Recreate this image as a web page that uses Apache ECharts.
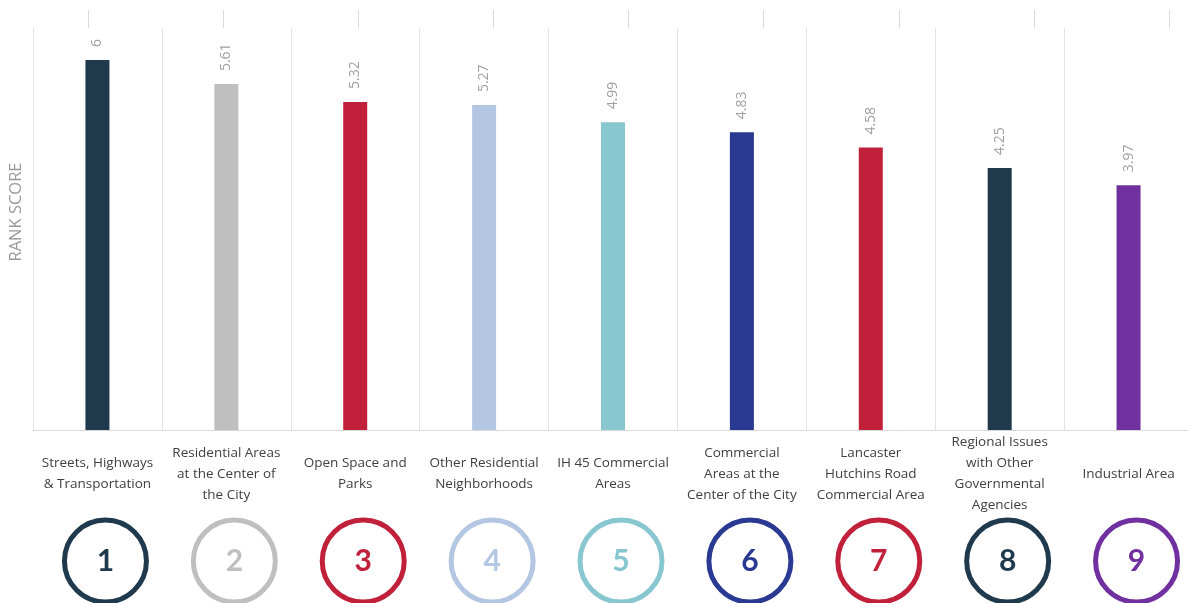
<!DOCTYPE html>
<html><head><meta charset="utf-8">
<script src="https://cdn.jsdelivr.net/npm/echarts@6/dist/echarts.min.js"></script>
<style>html,body{margin:0;padding:0;background:#fff}#c{width:1188px;height:603px}</style>
</head><body><div id="c"></div>
<script>
const categories = [
  'Streets, Highways\n& Transportation',
  'Residential Areas\nat the Center of\nthe City',
  'Open Space and\nParks',
  'Other Residential\nNeighborhoods',
  'IH 45 Commercial\nAreas',
  'Commercial\nAreas at the\nCenter of the City',
  'Lancaster\nHutchins Road\nCommercial Area',
  'Regional Issues\nwith Other\nGovernmental\nAgencies',
  'Industrial Area'
];
const scores = [6, 5.61, 5.32, 5.27, 4.99, 4.83, 4.58, 4.25, 3.97];
const ranks = ['1', '2', '3', '4', '5', '6', '7', '8', '9'];
const colors = ['#1f3a4d', '#bfbfbf', '#c0203a', '#b4c7e2', '#88c6d0', '#2a3a92', '#c0203a', '#1f3a4d', '#7030a0'];

const rich = {};
colors.forEach((c, i) => {
  rich['r' + i] = {
    width: 82, height: 82, lineHeight: 82, borderRadius: 48,
    borderColor: c, borderWidth: 5, align: 'center',
    color: c, fontSize: 30, fontWeight: 'bold', fontFamily: 'Lato'
  };
});

const chart = echarts.init(document.getElementById('c'), null, {renderer: 'canvas'});
chart.setOption({
  animation: false,
  backgroundColor: '#ffffff',
  grid: [
    {left: 33, width: 1160, top: 28, bottom: 173, outerBoundsMode: 'none', containLabel: false},
    {left: 88, right: 19, top: 10, height: 18, outerBoundsMode: 'none', containLabel: false},
    {left: 41, width: 1160, top: 28, bottom: 173, outerBoundsMode: 'none', containLabel: false}
  ],
  xAxis: [
    {
      type: 'category', gridIndex: 0, data: categories, position: 'bottom',
      axisLine: {lineStyle: {color: '#d9d9d9'}},
      axisTick: {show: false},
      splitLine: {show: true, interval: 0, lineStyle: {color: '#e3e3e3'}},
      axisLabel: {interval: 0, margin: 44, verticalAlign: 'middle', lineHeight: 21,
        fontSize: 13.5, color: '#404040', fontFamily: 'Open Sans'}
    },
    {
      type: 'category', gridIndex: 2, data: ranks, position: 'bottom',
      axisLine: {show: false}, axisTick: {show: false}, splitLine: {show: false},
      axisLabel: {interval: 0, margin: 131, verticalAlign: 'middle',
        formatter: (v, i) => '{r' + i + '|' + v + '}', rich: rich}
    },
    {
      type: 'category', gridIndex: 1, data: ranks, boundaryGap: false,
      axisLine: {show: false}, axisTick: {show: false}, axisLabel: {show: false},
      splitLine: {show: true, interval: 0, lineStyle: {color: '#dadada'}}
    }
  ],
  yAxis: [
    {
      type: 'value', gridIndex: 0, min: 0, max: 6.52,
      axisLabel: {show: false}, axisLine: {show: false}, axisTick: {show: false},
      splitLine: {show: false},
      name: 'RANK SCORE', nameLocation: 'middle', nameRotate: 90, nameGap: 8,
      nameTextStyle: {color: '#9a9a9a', fontSize: 16.5, fontFamily: 'Open Sans', padding: [0, 0, 0, 34]}
    },
    {type: 'value', gridIndex: 1, min: 0, max: 1, show: false},
    {type: 'value', gridIndex: 2, min: 0, max: 1, show: false}
  ],
  series: [
    {
      type: 'bar', xAxisIndex: 0, yAxisIndex: 0, barWidth: 24,
      data: scores.map((v, i) => ({value: v, itemStyle: {color: colors[i]}})),
      label: {show: true, position: 'top', rotate: 90, align: 'left', verticalAlign: 'middle',
        distance: 13, color: '#a0a0a0', fontSize: 14, fontFamily: 'Open Sans'}
    }
  ]
});
</script></body></html>
